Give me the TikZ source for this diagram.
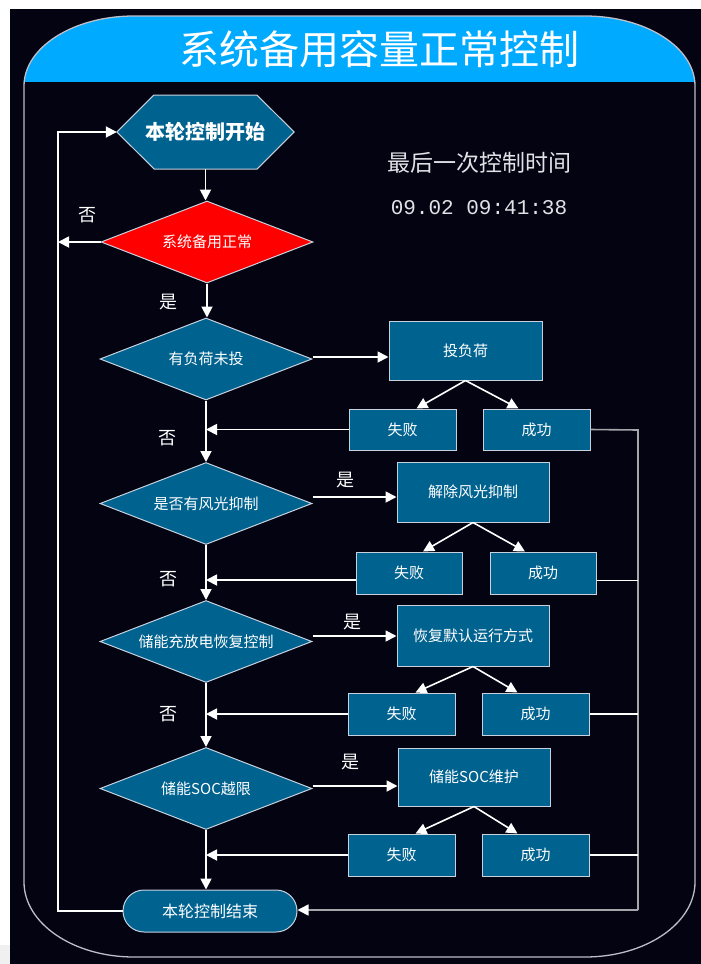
\documentclass[tikz,border=0pt]{standalone}
\usepackage{fontspec}
\setmainfont{Noto Sans CJK SC}
\newfontfamily\monof{Liberation Mono}
\usetikzlibrary{shapes.geometric,arrows.meta,calc}
\definecolor{bgdark}{RGB}{3,3,18}
\definecolor{titlecol}{RGB}{0,170,255}
\definecolor{boxfill}{RGB}{0,98,143}
\definecolor{boxborder}{RGB}{200,210,222}
\definecolor{framecol}{RGB}{190,190,200}
\definecolor{linegray}{RGB}{165,165,170}
\definecolor{timecol}{RGB}{225,225,230}
\tikzset{
  conn/.style={draw=white, line width=1.8pt, -{Triangle[length=11pt,width=11pt]}},
  plain/.style={draw=white, line width=1.8pt},
  grayline/.style={draw=linegray, line width=1.6pt},
  box/.style={rectangle, draw=boxborder, line width=1pt, fill=boxfill, text=white,
    font=\fontsize{15}{18}\selectfont, inner sep=0pt},
  dia/.style={diamond, draw=boxborder, line width=1pt, fill=boxfill, text=white,
    font=\fontsize{15}{18}\selectfont, inner sep=0pt, minimum width=212pt, minimum height=82pt},
  lbl/.style={text=white, font=\fontsize{18}{20}\selectfont, inner sep=0pt},
}
\newcommand{\ztext}[1]{\makebox[0pt]{#1}}
\begin{document}
\begin{tikzpicture}[x=1pt,y=-1pt]
\useasboundingbox (0,0) rectangle (701,964);
\fill[white] (0,0) rectangle (701,964);
\fill[black!6] (0,945) rectangle (10,964);
\fill[bgdark] (10,9) rectangle (701,964);
% frame
\def\framepath{(134,16) -- (585,16) arc[start angle=270,end angle=360,x radius=110,y radius=70]
  -- (695,882) arc[start angle=0,end angle=90,x radius=110,y radius=75]
  -- (134,957) arc[start angle=90,end angle=180,x radius=110,y radius=75]
  -- (24,86) arc[start angle=180,end angle=270,x radius=110,y radius=70] -- cycle}
\begin{scope}
  \clip (0,0) rectangle (701,81);
  \fill[titlecol] \framepath;
\end{scope}
\draw[framecol, line width=1.3pt] \framepath;
\node[text=white, font=\fontsize{40}{44}\selectfont, inner sep=0pt] (ttl) at (379,49) {系统备用容量正常控制};

% start hexagon
\node[minimum width=177pt, minimum height=74pt, inner sep=0pt] (start) at (205.5,132) {};
\draw[fill=boxfill, draw=boxborder, line width=1pt] (start.west) -- ++(37,-37) -- ++(103,0) -- (start.east) -- ++(-37,37) -- ++(-103,0) -- cycle;
\node[text=white, font=\fontsize{20}{22}\selectfont\bfseries, inner sep=0pt] (starttxt) at (start) {本轮控制开始};

% time text
\node[text=timecol, font=\fontsize{23}{25}\selectfont, inner sep=0pt] (tlabel) at (479,163) {最后一次控制时间};
\node[text=timecol, font=\monof\fontsize{21}{24}\selectfont, inner sep=0pt] (ttime) at (479,208) {09.02 09:41:38};

% diamonds
\node[dia, fill=red] (d1) at (207,242) {\ztext{系统备用正常}};
\node[dia] (d2) at (206,359) {\ztext{有负荷未投}};
\node[dia] (d3) at (206,503.5) {\ztext{是否有风光抑制}};
\node[dia] (d4) at (206,641.5) {\ztext{储能充放电恢复控制}};
\node[dia] (d5) at (206,788.5) {\ztext{储能SOC越限}};

% action boxes
\node[box, minimum width=153pt, minimum height=59pt] (b1) at (465.5,350.5) {投负荷};
\node[box, minimum width=152pt, minimum height=60pt] (b2) at (473,492) {解除风光抑制};
\node[box, minimum width=152pt, minimum height=61pt] (b3) at (473,635.5) {恢复默认运行方式};
\node[box, minimum width=152pt, minimum height=58pt] (b4) at (474,777) {储能SOC维护};

% fail / success boxes
\node[box, minimum width=107pt, minimum height=41pt] (f1) at (402.5,429.5) {失败};
\node[box, minimum width=107pt, minimum height=41pt] (s1) at (536.5,429.5) {成功};
\node[box, minimum width=106pt, minimum height=42pt] (f2) at (409,573) {失败};
\node[box, minimum width=106pt, minimum height=42pt] (s2) at (543,573) {成功};
\node[box, minimum width=107pt, minimum height=42pt] (f3) at (401.5,714) {失败};
\node[box, minimum width=107pt, minimum height=42pt] (s3) at (535.5,714) {成功};
\node[box, minimum width=107pt, minimum height=42pt] (f4) at (401.5,855) {失败};
\node[box, minimum width=107pt, minimum height=42pt] (s4) at (535.5,855) {成功};

% end node
\node[box, rounded corners=21pt, minimum width=174pt, minimum height=42pt, font=\fontsize{16}{18}\selectfont] (endn) at (210,911) {本轮控制结束};

% coordinates
\coordinate (lt) at (58,131);
\coordinate (rt) at (638,430);
\coordinate (rb) at (638,910);

% main vertical flow
\draw[conn] (start.south) -- (start.south |- d1.north);
\draw[conn] (d1.south) -- (d1.south |- d2.north);
\draw[conn] (d2.south) -- (d3.north);
\draw[conn] (d3.south) -- (d4.north);
\draw[conn] (d4.south) -- (d5.north);
\draw[conn] (d5.south) -- (d5.south |- endn.north);

% left loop
\draw[conn] (d1.west) -- (d1.west -| lt);
\draw[conn] (endn.west) -- (endn.west -| lt) -- (lt |- start.west) -- (start.west);

% yes arrows
\path ([yshift=2pt]d2.east) coordinate (y2);
\path ([yshift=6.5pt]d3.east) coordinate (y3);
\path ([yshift=5.5pt]d4.east) coordinate (y4);
\path ([yshift=2.5pt]d5.east) coordinate (y5);
\draw[conn] (y2) -- (y2 -| b1.west);
\draw[conn] (y3) -- (y3 -| b2.west);
\draw[conn] (y4) -- (y4 -| b3.west);
\draw[conn] (y5) -- (y5 -| b4.west);

% split arrows
\foreach \b/\f/\s in {b1/f1/s1, b2/f2/s2, b3/f3/s3, b4/f4/s4}{
  \draw[conn, line width=1.6pt] (\b.south) -- ([xshift=14pt]\f.north);
  \draw[conn, line width=1.6pt] (\b.south) -- ([xshift=-18pt]\s.north);
}

% fail lines
\path ([yshift=-7pt]f2.west) coordinate (f2l);
\draw[conn] (f1.west) -- (f1.west -| d2.south);
\draw[conn] (f2l) -- (f2l -| d3.south);
\draw[conn] (f3.west) -- (f3.west -| d4.south);
\draw[conn] (f4.west) -- (f4.west -| d5.south);

% success lines
\path ([yshift=-7.5pt]s2.east) coordinate (s2r);
\draw[grayline] (s1.east) -- (rt) -- (rb);
\draw[plain] (s2r) -- (s2r -| rt);
\draw[plain] (s3.east) -- (s3.east -| rt);
\draw[plain] (s4.east) -- (s4.east -| rt);
\draw[grayline, -{Triangle[length=11pt,width=11pt,color=white]}] (rb) -- (rb -| endn.east);

% labels
\node[lbl] (n1) at (87,215) {否};
\node[lbl] (y1l) at (168,302) {是};
\node[lbl] (n2) at (167,438) {否};
\node[lbl] (y2l) at (345,480) {是};
\node[lbl] (n3) at (168,579) {否};
\node[lbl] (y3l) at (352,622) {是};
\node[lbl] (n4) at (168,714) {否};
\node[lbl] (y4l) at (350,762) {是};
\end{tikzpicture}
\end{document}
